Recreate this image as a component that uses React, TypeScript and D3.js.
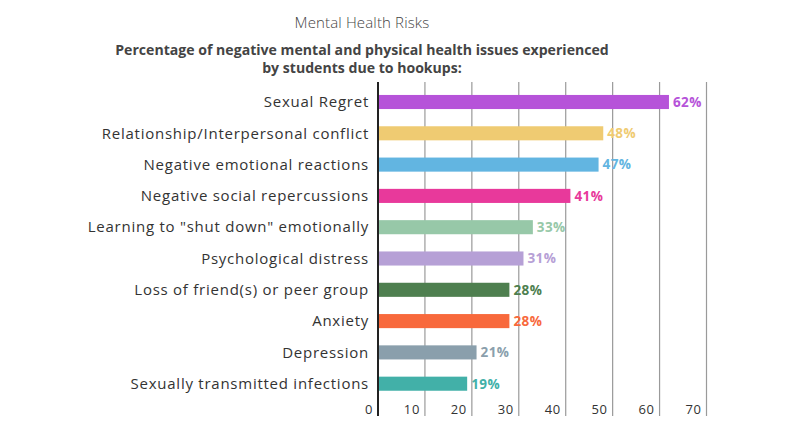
import React from "react";
import * as d3 from "d3";

const categories = [
  "Sexual Regret",
  "Relationship/Interpersonal conflict",
  "Negative emotional reactions",
  "Negative social repercussions",
  'Learning to "shut down" emotionally',
  "Psychological distress",
  "Loss of friend(s) or peer group",
  "Anxiety",
  "Depression",
  "Sexually transmitted infections",
];
const values = [62, 48, 47, 41, 33, 31, 28, 28, 21, 19];
const colors = [
  "#b653d9",
  "#efcb72",
  "#62b5e1",
  "#e8399b",
  "#97c8a8",
  "#b6a0d6",
  "#4e7f4f",
  "#f8693c",
  "#8a9fac",
  "#42b0a8",
];
const ticks = [0, 10, 20, 30, 40, 50, 60, 70];
const title = "Mental Health Risks";
const subtitle = [
  "Percentage of negative mental and physical health issues experienced",
  "by students due to hookups:",
];

const W = 800;
const H = 440;
const FONT = "'Open Sans', sans-serif";

export default function App() {
  const x = d3.scaleLinear().domain([0, 70]).range([378, 706.5]);
  const y = d3
    .scaleBand<string>()
    .domain(categories)
    .range([86.35, 399.35])
    .paddingInner(0.55)
    .paddingOuter(0.275);
  const gridTop = 82;
  const gridBottom = 416;
  const cx = 362;

  return (
    <svg
      width={W}
      height={H}
      style={{ position: "absolute", left: 0, top: 0, background: "#fff" }}
      fontFamily={FONT}
    >
      <text x={cx} y={27.5} textAnchor="middle" fontSize={15} fontWeight={300} fill="#444" letterSpacing={0.15}>
        {title}
      </text>
      {subtitle.map((s, i) => (
        <text
          key={i}
          x={cx}
          y={55 + i * 18}
          textAnchor="middle"
          fontSize={14.1}
          fontWeight={700}
          fill="#444"
        >
          {s}
        </text>
      ))}
      {ticks.map((t) =>
        t === 0 ? null : (
          <line
            key={t}
            x1={x(t)}
            x2={x(t)}
            y1={gridTop}
            y2={gridBottom}
            stroke="#9a9a9a"
            strokeWidth={1.2}
          />
        )
      )}
      {ticks.map((t) => (
        <text
          key={"t" + t}
          x={x(t) - 5}
          y={414}
          textAnchor="end"
          fontSize={13}
          fill="#333"
          letterSpacing={0.6}
        >
          {t}
        </text>
      ))}
      {categories.map((c, i) => {
        const yy = y(c)!;
        const bw = y.bandwidth();
        return (
          <g key={c}>
            <rect x={x(0)} y={yy} width={x(values[i]) - x(0)} height={bw} fill={colors[i]} />
            <text
              x={369}
              y={yy + bw / 2}
              dy="0.35em"
              textAnchor="end"
              fontSize={15}
              fill="#333"
              letterSpacing={0.75}
            >
              {c}
            </text>
            <text
              x={x(values[i]) + 4}
              y={yy + bw / 2}
              dy="0.36em"
              fontSize={13.5}
              fontWeight={700}
              fill={colors[i]}
              letterSpacing={0.4}
            >
              {values[i]}%
            </text>
          </g>
        );
      })}
      <line x1={x(0)} x2={x(0)} y1={gridTop} y2={gridBottom} stroke="#222" strokeWidth={2} />
    </svg>
  );
}
